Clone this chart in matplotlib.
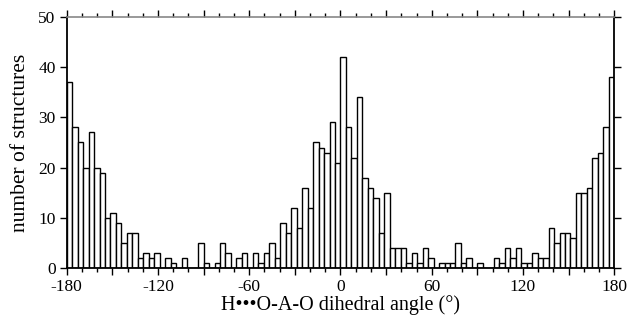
import numpy as np
import matplotlib.pyplot as plt
from matplotlib.ticker import MultipleLocator, FuncFormatter

plt.rcParams['font.family'] = ['Liberation Serif', 'DejaVu Serif']

# histogram counts, 100 bins of 3.6 deg from -180 to 180
counts = [37, 28, 25, 20, 27, 20, 19, 10, 11, 9,
          5, 7, 7, 2, 3, 2, 3, 0, 2, 1,
          0, 2, 0, 0, 5, 1, 0, 1, 5, 3,
          0, 2, 3, 0, 3, 1, 3, 5, 2, 9,
          7, 12, 8, 16, 12, 25, 24, 23, 29, 21,
          42, 28, 22, 34, 18, 16, 14, 7, 15, 4,
          4, 4, 1, 3, 1, 4, 2, 0, 1, 1,
          1, 5, 1, 2, 0, 1, 0, 0, 2, 1,
          4, 2, 4, 1, 1, 3, 2, 2, 8, 5,
          7, 7, 6, 15, 15, 16, 22, 23, 28, 38]
bin_start = -180
bin_width = 3.6
edges = bin_start + bin_width * np.arange(len(counts))

fig = plt.figure(figsize=(6.29, 3.2), dpi=100)
ax = fig.add_axes([0.106, 0.1634, 0.8706, 0.7826])

ax.bar(edges, counts, width=bin_width, align='edge',
       color='white', edgecolor='black', linewidth=1.0)

ax.set_xlim(-180, 180)
ax.set_ylim(0, 50)

ax.xaxis.set_major_locator(MultipleLocator(30))
ax.xaxis.set_minor_locator(MultipleLocator(10))
ax.xaxis.set_major_formatter(FuncFormatter(lambda v, p: '%d' % v if v % 60 == 0 else ''))
ax.yaxis.set_major_locator(MultipleLocator(10))

ax.tick_params(axis='both', which='both', direction='out', top=True, right=True,
               labelsize=12.5, colors='black')
ax.tick_params(axis='both', which='major', length=5, width=1)
ax.tick_params(axis='both', which='minor', length=3, width=1)
ax.tick_params(axis='x', pad=3)
ax.tick_params(axis='y', pad=3)

for s in ['left', 'bottom', 'right']:
    ax.spines[s].set_linewidth(1.3)
    ax.spines[s].set_color('black')
ax.spines['top'].set_color('#888888')
ax.spines['top'].set_linewidth(1.2)

ax.set_xlabel('H\u2022\u2022\u2022O-A-O dihedral angle (\u00b0)', fontsize=14.5, labelpad=0)
ax.set_ylabel('number of structures', fontsize=15.5, labelpad=6)

fig.savefig('out.png', dpi=100)
